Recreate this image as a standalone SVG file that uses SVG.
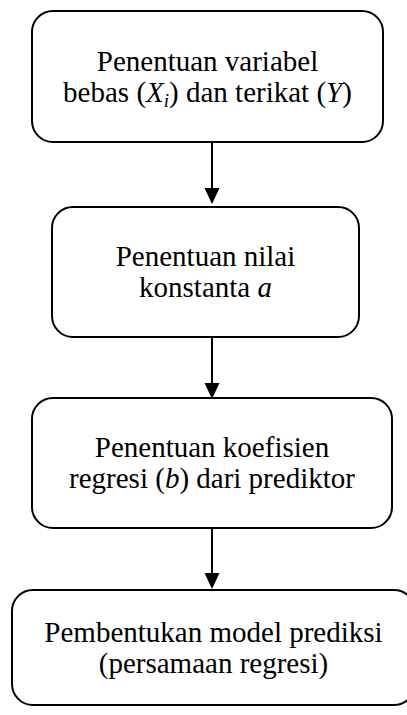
<svg xmlns="http://www.w3.org/2000/svg" width="407" height="715" viewBox="0 0 407 715">
<style>
.box{fill:#fff;stroke:#000;stroke-width:2}
text{font-family:'Liberation Serif','Times New Roman',Times,serif;font-size:29px;fill:#000;text-anchor:middle}
.i{font-style:italic}
.c{stroke:#000;stroke-width:2;fill:none}
.h{fill:#000}
</style>
<rect width="407" height="715" fill="#fff"/>
<g id="n1">
<rect class="box" x="32" y="11" width="351" height="131" rx="21"/>
<text x="207.5" y="71" font-family="Liberation Serif">Penentuan variabel</text>
<text x="207.5" y="102" font-family="Liberation Serif">bebas (<tspan class="i">X</tspan><tspan class="i" font-size="19" dy="5">i</tspan><tspan dy="-5">) dan terikat (</tspan><tspan class="i">Y</tspan>)</text>
</g>
<g id="n2">
<rect class="box" x="52" y="207" width="307" height="130" rx="21"/>
<text x="205.5" y="266" font-family="Liberation Serif">Penentuan nilai</text>
<text x="205.5" y="297" font-family="Liberation Serif">konstanta <tspan class="i">a</tspan></text>
</g>
<g id="n3">
<rect class="box" x="32" y="398" width="360" height="130" rx="21"/>
<text x="212" y="457" font-family="Liberation Serif">Penentuan koefisien</text>
<text x="212" y="488" font-family="Liberation Serif">regresi (<tspan class="i">b</tspan>) dari prediktor</text>
</g>
<g id="n4">
<rect class="box" x="12" y="590" width="403" height="115" rx="21"/>
<text x="213.5" y="641.5" font-family="Liberation Serif">Pembentukan model prediksi</text>
<text x="213.5" y="672.5" font-family="Liberation Serif">(persamaan regresi)</text>
</g>
<g id="connectors">
<line class="c" x1="212" y1="142" x2="212" y2="190"/>
<polygon class="h" points="204.5,188 219.5,188 212,204"/>
<line class="c" x1="212" y1="337" x2="212" y2="385"/>
<polygon class="h" points="204.5,383 219.5,383 212,399"/>
<line class="c" x1="212" y1="528" x2="212" y2="575"/>
<polygon class="h" points="204.5,573 219.5,573 212,589"/>
</g>
</svg>
